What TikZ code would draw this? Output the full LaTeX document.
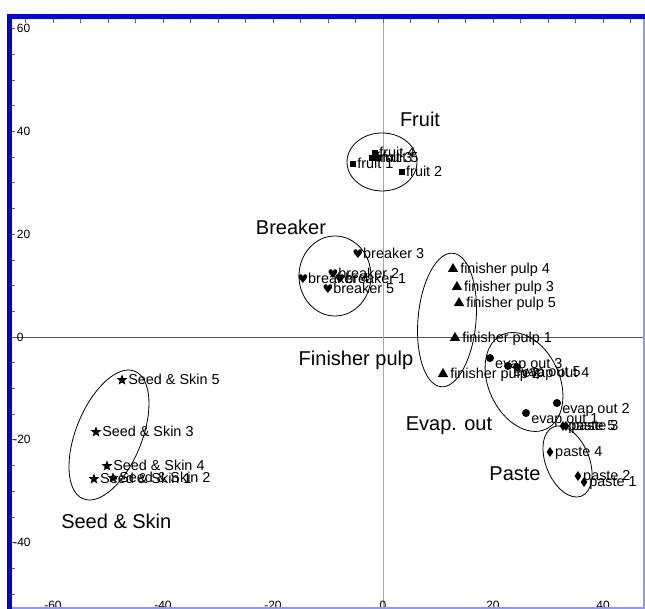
\documentclass[tikz,border=0pt]{standalone}
\usepackage{fontspec}
\setmainfont{Liberation Sans}
\newfontfamily\heartfont{DejaVu Sans}
\usetikzlibrary{positioning,shapes.geometric}
\definecolor{frameblue}{RGB}{0,0,235}
\definecolor{edgeblue}{RGB}{140,150,255}
\begin{document}
\begin{tikzpicture}[x=4.125pt,y=3.855pt]
% Styles
\tikzstyle{dot base}=[fill=black,draw=none,inner sep=0pt,outer sep=0pt]
\tikzstyle{fruit dot}=[dot base,rectangle,minimum size=5.2pt]
\tikzstyle{breaker dot}=[inner sep=0pt,outer sep=0pt,font=\heartfont\fontsize{9}{9}\selectfont]
\tikzstyle{pulp dot}=[dot base,regular polygon,regular polygon sides=3,minimum size=9pt]
\tikzstyle{evap dot}=[dot base,circle,minimum size=6pt]
\tikzstyle{paste dot}=[dot base,diamond,minimum width=5pt,minimum height=7.5pt]
\tikzstyle{seed dot}=[dot base,star,star points=5,star point ratio=2.4,minimum size=8.5pt]
\tikzstyle{point label}=[inner sep=0pt,text height=0.72em,text depth=0pt,font=\fontsize{10.8}{13}\selectfont]
\tikzstyle{group label}=[inner sep=0pt,text height=0.72em,text depth=0pt,font=\fontsize{15}{18}\selectfont]
\tikzstyle{tick label}=[inner sep=0pt,font=\fontsize{9}{10}\selectfont]
\tikzstyle{ring}=[draw=black,line width=0.6pt]

\useasboundingbox (-69.636,-52.918) rectangle (47.636,65.564);

% the axes and the ticks
\draw[black!65,line width=0.7pt] (-67.87,0) -- (47.45,0);
\draw[black!35,line width=0.7pt] (0,62.45) -- (0,-52.72);
\foreach \x in {-65,-60,...,45} {
\draw[black!60,line width=0.5pt] (\x,62.45) -- (\x,61.0);
}
\foreach \y in {-50,-45,...,60} {
\draw[black!60,line width=0.5pt] (-67.87,\y) -- (-66.9,\y);
}
\foreach \y in {0,20,40,60} {
\node[tick label,anchor=west] (yl\y) at (-66.6,\y) {\y};
}
\foreach \y in {-20,-40} {
\node[tick label,anchor=west] (yl\y) at (-67.27,\y) {\y};
}
\foreach \x in {-60,-40,...,40} {
\node[tick label,anchor=north] (xl\x) at (\x,-51.4) {\x};
}

% the groups
\draw[ring] (-0.18,34.05) ellipse [x radius=26.25pt,y radius=21.75pt];
\draw[ring] (-8.73,11.87) ellipse [x radius=27pt,y radius=30pt];
\draw[ring,rotate around={-5:(11.64,3.31)}] (11.64,3.31) ellipse [x radius=21.75pt,y radius=50.25pt];
\draw[ring,rotate around={25:(25.64,-8.75)}] (25.64,-8.75) ellipse [x radius=26.6pt,y radius=39pt];
\draw[ring,rotate around={22:(33.55,-24.22)}] (33.55,-24.22) ellipse [x radius=16.3pt,y radius=28pt];
\draw[ring,rotate around={-22:(-49.82,-19.07)}] (-49.82,-19.07) ellipse [x radius=24.75pt,y radius=51.6pt];

\node[group label] (fruit) at (6.73,41.93) {Fruit};
\node[group label] (breaker) at (-16.73,20.82) {Breaker};
\node[group label] (pulp) at (-4.91,-4.67) {Finisher pulp};
\node[group label] (evap) at (12.0,-17.3) {Evap. out};
\node[group label] (paste) at (24.0,-27.04) {Paste};
\node[group label] (seed) at (-48.49,-36.28) {Seed \& Skin};

% draw the samples
\foreach \n/\x/\y/\t in {f1/-5.45/33.66/fruit 1, f2/3.45/32.10/fruit 2,
f3/-2.0/34.82/fruit 3, f4/-1.45/35.80/fruit 4, f5/-0.91/34.82/fruit 5} {
\node[fruit dot] (\n) at (\x,\y) {};
\node[point label,right=3pt of \n.center] (\n-t) {\t};
}
\foreach \n/\x/\y/\t in {b4/-14.55/11.28/breaker 4, b3/-4.55/16.15/breaker 3,
b2/-9.09/12.26/breaker 2, b1/-7.82/11.28/breaker 1, b5/-10.0/9.34/breaker 5} {
\node[breaker dot] (\n) at (\x,\y) {♥};
\node[point label,right=3.75pt of \n.center] (\n-t) {\t};
}
\foreach \n/\x/\y/\t in {p4/12.73/13.23/finisher pulp 4, p3/13.45/9.73/finisher pulp 3,
p5/13.82/6.61/finisher pulp 5, p1/13.09/-0.19/finisher pulp 1, p2/10.91/-7.2/finisher pulp 2} {
\node[pulp dot] (\n) at (\x,\y) {};
\node[point label,right=5.25pt of \n.center] (\n-t) {\t};
}
\foreach \n/\x/\y/\t in {e3/19.45/-4.09/evap out 3, e5/22.73/-5.64/evap out 5,
e4/24.36/-5.84/evap out 4, e2/31.64/-12.84/evap out 2, e1/26.0/-14.79/evap out 1} {
\node[evap dot] (\n) at (\x,\y) {};
\node[point label,right=3.75pt of \n.center,yshift=-4.5pt] (\n-t) {\t};
}
\foreach \n/\x/\y/\t in {a5/32.73/-17.32/paste 5, a3/33.27/-17.32/paste 3,
a4/30.36/-22.37/paste 4, a2/35.45/-27.04/paste 2, a1/36.55/-28.21/paste 1} {
\node[paste dot] (\n) at (\x,\y) {};
\node[point label,right=3.75pt of \n.center] (\n-t) {\t};
}
\foreach \n/\x/\y/\t in {s5/-47.45/-8.37/Seed \& Skin 5, s3/-52.18/-18.48/Seed \& Skin 3,
s4/-50.18/-25.10/Seed \& Skin 4, s1/-52.55/-27.63/Seed \& Skin 1, s2/-49.09/-27.43/Seed \& Skin 2} {
\node[seed dot] (\n) at (\x,\y) {};
\node[point label,right=4.5pt of \n.center] (\n-t) {\t};
}

% the frame
\draw[edgeblue,line width=0.9pt] (47.45,62.45) -- (47.45,-52.72) -- (-67.87,-52.72);
\draw[frameblue,line width=3.75pt] (-67.87,-52.918) -- (-67.87,62.45) -- (47.636,62.45);
\end{tikzpicture}
\end{document}
